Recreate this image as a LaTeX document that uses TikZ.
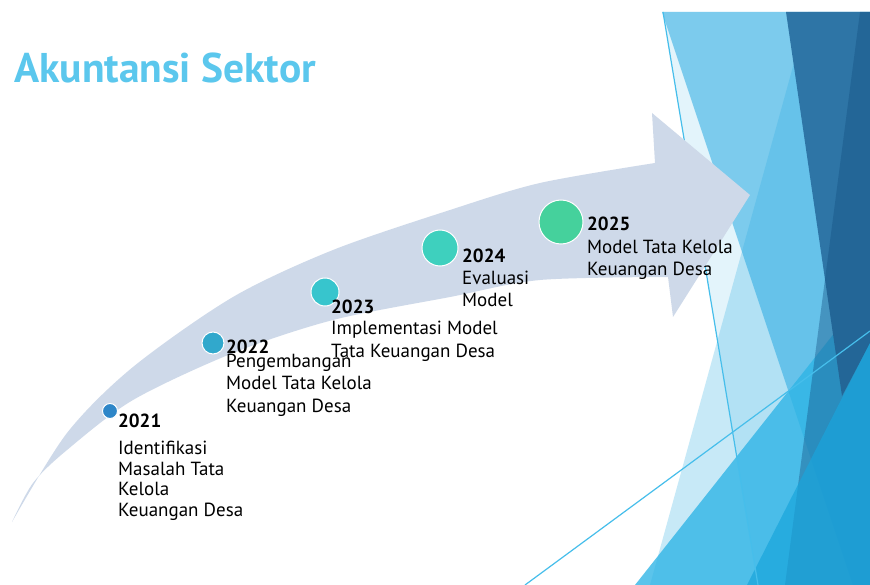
\documentclass[tikz,border=0pt]{standalone}
\usepackage{fontspec}
\setmainfont{PT Sans}
\definecolor{arrowgrey}{RGB}{206,217,233}
\definecolor{titleblue}{RGB}{91,199,237}
\definecolor{facet}{RGB}{41,171,226}
\definecolor{facetb}{RGB}{45,180,230}
\definecolor{facetc}{RGB}{25,165,220}
\definecolor{facetdark}{RGB}{46,117,166}
\definecolor{facetnavy}{RGB}{20,80,130}
\definecolor{facetline}{RGB}{70,190,235}
\definecolor{c21}{RGB}{46,134,200}
\definecolor{c22}{RGB}{49,168,204}
\definecolor{c23}{RGB}{55,197,205}
\definecolor{c24}{RGB}{62,208,190}
\definecolor{c25}{RGB}{69,209,156}
\begin{document}
\begin{tikzpicture}[x=1pt, y=-1pt,
    dot/.style = {circle, draw=white, line width=1pt, inner sep=0pt},
    year/.style = {font=\fontsize{19}{22}\selectfont\bfseries, inner sep=0pt, anchor=base west},
    desc/.style = {font=\fontsize{19}{22.3}\selectfont, align=left, inner sep=0pt, anchor=base west}]
    \fill[white] (0,0) rectangle (870,585);
    \useasboundingbox (0,0) rectangle (870,585);
    % facets on the right
    \fill[facet, opacity=0.13] (663,12) -- (870,12) -- (870,585) -- (758,585) -- cycle;
    \fill[facet, opacity=0.55] (662,12) -- (870,12) -- (870,585) -- (853,585) -- cycle;
    \fill[facet, opacity=0.26] (808,12) -- (870,12) -- (870,585) -- (650,585) -- cycle;
    \fill[facetb, opacity=0.78] (635,585) -- (870,288) -- (870,585) -- cycle;
    \fill[facetdark] (786,12) -- (870,12) -- (870,343) -- (842,396) -- cycle;
    \fill[facetnavy, opacity=0.4] (860,12) -- (870,12) -- (870,585) -- (785,585) -- cycle;
    \fill[facetc, opacity=0.7] (870,343) -- (747,585) -- (870,585) -- cycle;
    \draw[facetline, line width=1.2pt] (663,12) -- (758,585);
    \draw[facetline, line width=1.2pt] (525,585) -- (870,331);
    % arrow
    \fill[arrowgrey] plot[smooth] coordinates {(12,522) (67,433) (133,367) (233,297) (333,250) (450,210) (540,183) (655,163)}
        -- (652,113) -- (750,195) -- (673,317) -- (668,277)
        -- plot[smooth] coordinates {(668,277) (540,280) (450,297) (333,320) (233,353) (133,400) (67,450) (33,483) (12,522)} -- cycle;
    \node[font=\fontsize{41.5}{46}\selectfont\bfseries, text=titleblue, inner sep=0pt, anchor=base west] (ttl) at (14,83) {Akuntansi Sektor};
    % milestones
    \node[dot, fill=c21, minimum size=15pt] (p21) at (110,411) {};
    \node[dot, fill=c22, minimum size=22pt] (p22) at (213,343) {};
    \node[dot, fill=c23, minimum size=28pt] (p23) at (325,292) {};
    \node[dot, fill=c24, minimum size=36pt] (p24) at (440,248) {};
    \node[dot, fill=c25, minimum size=44pt] (p25) at (561,222) {};
    \node[year] (y21) at (118,427) {2021};
    \node[desc, font=\fontsize{19}{20.5}\selectfont] (d21) at (118,516) {Identifikasi\\Masalah Tata\\Kelola\\Keuangan Desa};
    \node[year] (y22) at (226,353) {2022};
    \node[desc] (d22) at (226,412) {Pengembangan\\Model Tata Kelola\\Keuangan Desa};
    \node[year] (y23) at (331,313) {2023};
    \node[desc] (d23) at (331,357) {Implementasi Model\\Tata Keuangan Desa};
    \node[year] (y24) at (462,263) {2024};
    \node[desc] (d24) at (462,307) {Evaluasi\\Model};
    \node[year] (y25) at (587,231) {2025};
    \node[desc] (d25) at (587,276) {Model Tata Kelola\\Keuangan Desa};
\end{tikzpicture}
\end{document}
